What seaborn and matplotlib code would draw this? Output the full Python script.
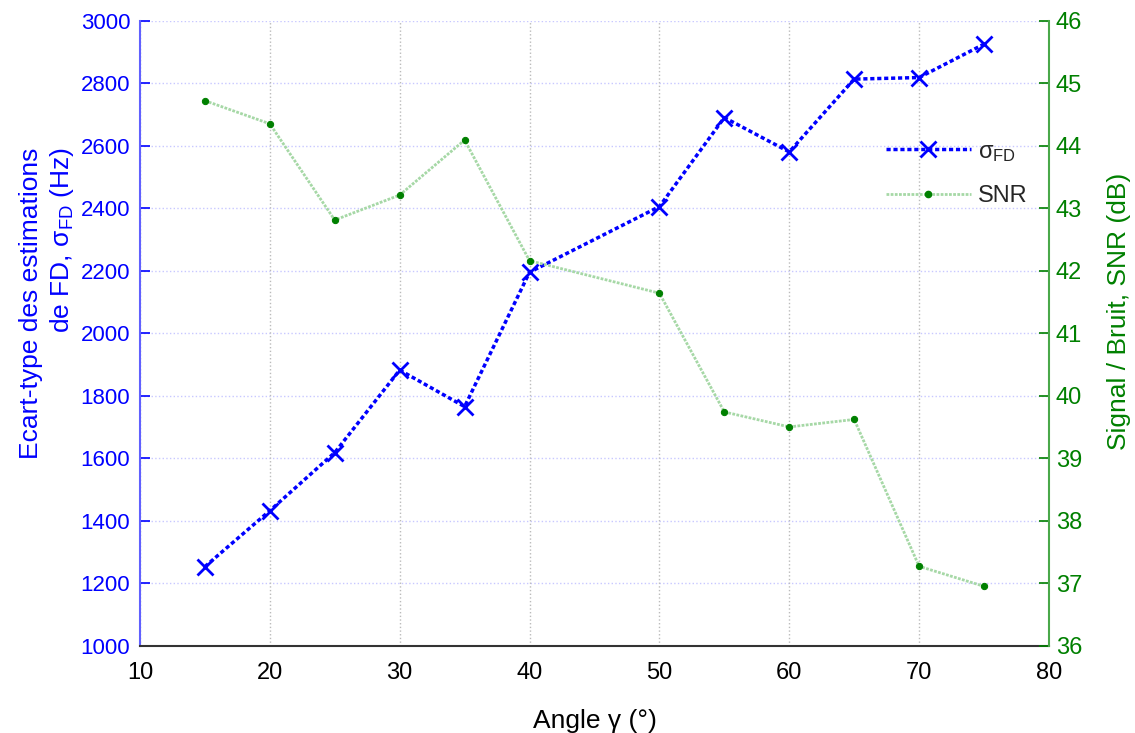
import matplotlib
matplotlib.use("Agg")
import matplotlib.pyplot as plt
import seaborn as sns
from matplotlib.lines import Line2D

# Data
angles = [15, 20, 25, 30, 35, 40, 50, 55, 60, 65, 70, 75]
sigma_fd = [1253, 1432, 1618, 1882, 1765, 2195, 2405, 2690, 2580, 2813, 2818, 2925]
snr = [44.72, 44.35, 42.81, 43.21, 44.09, 42.16, 41.64, 39.74, 39.50, 39.62, 37.27, 36.95]

x_ticks = [10, 20, 30, 40, 50, 60, 70, 80]
left_ticks = [1000, 1200, 1400, 1600, 1800, 2000, 2200, 2400, 2600, 2800, 3000]
right_ticks = [36, 37, 38, 39, 40, 41, 42, 43, 44, 45, 46]

blue = "#0000ff"
green = "#008000"
light_green = "#a6d8a6"

sns.set_style("white")
plt.rcParams['font.family'] = ['Liberation Sans', 'DejaVu Sans']
plt.rcParams['mathtext.fontset'] = 'custom'
plt.rcParams['mathtext.rm'] = 'Liberation Sans'
plt.rcParams['mathtext.it'] = 'Liberation Sans'

fig = plt.figure(figsize=(11.35, 7.33), dpi=100)
ax = fig.add_axes([0.1233, 0.1191, 0.8009, 0.8527])
ax2 = ax.twinx()

# grid: blue-ish horizontal (left axis), gray vertical
for v in left_ticks:
    ax.axhline(v, color="#c8c8ff", lw=1, ls=":", zorder=0)
for v in x_ticks:
    ax.axvline(v, color="#bbbbbb", lw=1, ls=":", zorder=0)

sns.lineplot(x=angles, y=sigma_fd, ax=ax, color=blue, linestyle=(0, (1.2, 0.8)),
             linewidth=2.5, marker="x", markersize=11, markeredgewidth=2,
             markeredgecolor=blue, zorder=3)
sns.lineplot(x=angles, y=snr, ax=ax2, color=light_green, linestyle=(0, (1, 0.5)),
             linewidth=2, marker="o", markersize=4.5, markerfacecolor=green,
             markeredgecolor=green, zorder=3)

ax.set_xlim(10, 80)
ax.set_ylim(1000, 3000)
ax2.set_ylim(36, 46)
ax.set_xticks(x_ticks)
ax.set_yticks(left_ticks)
ax2.set_yticks(right_ticks)

ax.tick_params(axis="x", direction="in", length=8, width=1.2, colors="black", labelsize=17, pad=12)
ax.tick_params(axis="y", direction="in", length=7, width=1.2, colors=blue, labelsize=16, pad=7)
ax2.tick_params(axis="y", direction="in", length=7, width=1.2, colors=green, labelsize=17, pad=5)

for a in (ax, ax2):
    a.spines["top"].set_visible(False)
ax.spines["right"].set_visible(False)
ax.spines["left"].set_color("#6060ff")
ax.spines["left"].set_linewidth(1.5)
ax.spines["bottom"].set_color("#333333")
ax.spines["bottom"].set_linewidth(1.5)
ax2.spines["left"].set_visible(False)
ax2.spines["bottom"].set_visible(False)
ax2.spines["right"].set_color("#4aa84a")
ax2.spines["right"].set_linewidth(1.5)

ax.set_xlabel("Angle γ (°)", fontsize=19, color="black", labelpad=18)
ax.set_ylabel("Ecart-type des estimations\nde FD, σ$_{\\mathrm{FD}}$ (Hz)", fontsize=19,
              color=blue, linespacing=1.25, multialignment="right")
ax.yaxis.set_label_coords(-0.07, 0.548)
ax2.set_ylabel("Signal / Bruit, SNR (dB)", fontsize=19, color=green)
ax2.yaxis.set_label_coords(1.064, 0.535)

handles = [
    Line2D([], [], color=blue, linestyle=(0, (1.2, 0.8)), linewidth=2.5, marker="x",
           markersize=11, markeredgewidth=2),
    Line2D([], [], color=light_green, linestyle=(0, (1, 0.5)), linewidth=2, marker="o",
           markersize=4.5, markerfacecolor=green, markeredgecolor=green),
]
ax2.legend(handles, ["σ$_{\\mathrm{FD}}$", "SNR"], loc="upper left",
           bbox_to_anchor=(0.797, 0.842), frameon=False, fontsize=17,
           handlelength=3.6, handletextpad=0.3, labelspacing=0.9)

fig.savefig("out.png", dpi=100)
